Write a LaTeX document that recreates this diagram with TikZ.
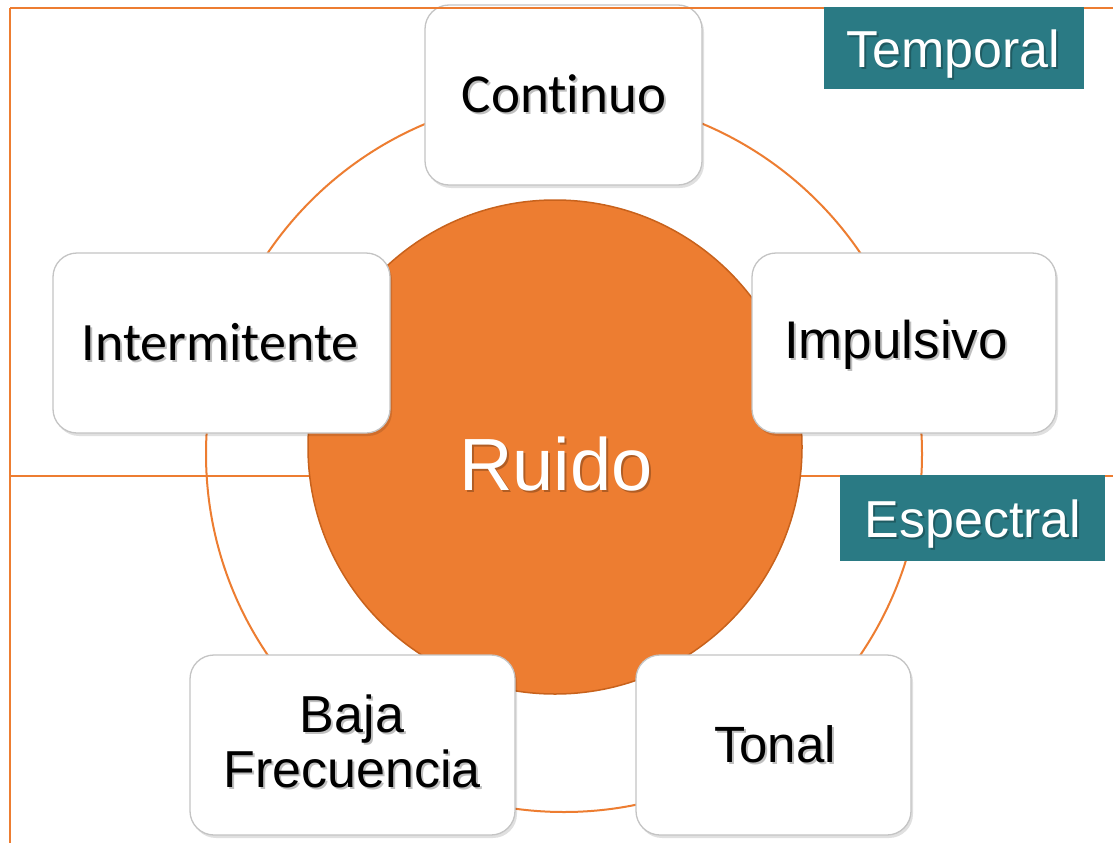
\documentclass[tikz,border=0pt]{standalone}
\usepackage{fontspec}
\setmainfont{Liberation Sans}
\newfontfamily\calib[Ligatures=NoCommon]{Carlito}
\definecolor{orng}{HTML}{ED7D31}
\definecolor{orngdk}{HTML}{C8621C}
\definecolor{teal}{HTML}{2A7A84}
\definecolor{boxln}{HTML}{C4C4C4}
\tikzset{
  oline/.style={draw=orng, line width=2pt},
  cardbox/.style={rectangle, rounded corners=24pt, draw=boxln, line width=1.3pt, fill=white, inner sep=0pt},
  cardshadow/.style={rectangle, rounded corners=24pt, fill=black, fill opacity=0.12, draw=none, inner sep=0pt},
  tagbox/.style={rectangle, fill=teal, draw=none, inner sep=0pt},
  txt/.style={anchor=base, inner sep=0pt, align=center},
  txtshadow/.style={anchor=base, inner sep=0pt, align=center, text opacity=0.25},
}
\newcommand{\mylbl}[6]{% name, x, y, font, colour, text
  \node[txtshadow, #4, text=black] (#1s) at (#2+2,#3+2.5) {#6};
  \node[txt, #4, text=#5] (#1) at (#2,#3) {#6};
}
\begin{document}
\begin{tikzpicture}[x=1pt,y=-1pt]
\useasboundingbox (0,0) rectangle (1113,843);
\fill[white] (0,0) rectangle (1113,843);
% frame lines
\coordinate (tl) at (10,8);
\coordinate (bl) at (10,843);
\coordinate (ml) at (10,476);
\coordinate (mr) at (1113,476);
\coordinate (tr) at (1113,8);
\draw[oline] (tl) -- (bl);
\draw[oline] (ml) -- (mr);
% ring
\coordinate (ringc) at (564,454);
\draw[oline] (ringc) circle (358pt);
% central circle
\node[circle, fill=orng, draw=orngdk, line width=1.5pt, minimum size=494pt, inner sep=0pt] (ruidoc) at (555,447) {};
% cards
\node[cardshadow, minimum width=277pt, minimum height=180pt] (c1s) at (565.5,98) {};
\node[cardbox, minimum width=277pt, minimum height=180pt] (c1) at (563.5,95) {};
\node[cardshadow, minimum width=337pt, minimum height=180pt] (c2s) at (223.5,346) {};
\node[cardbox, minimum width=337pt, minimum height=180pt] (c2) at (221.5,343) {};
\node[cardshadow, minimum width=304pt, minimum height=180pt] (c3s) at (906,346) {};
\node[cardbox, minimum width=304pt, minimum height=180pt] (c3) at (904,343) {};
\node[cardshadow, minimum width=325pt, minimum height=180pt] (c4s) at (354.5,748) {};
\node[cardbox, minimum width=325pt, minimum height=180pt] (c4) at (352.5,745) {};
\node[cardshadow, minimum width=275pt, minimum height=180pt] (c5s) at (775.5,748) {};
\node[cardbox, minimum width=275pt, minimum height=180pt] (c5) at (773.5,745) {};
% top line over cards
\draw[oline] (tl) -- (tr);
% tags
\node[tagbox, minimum width=260pt, minimum height=82pt] (tag1) at (954,48) {};
\node[tagbox, minimum width=265pt, minimum height=86pt] (tag2) at (972.5,518) {};
% texts
\mylbl{tcont}{564}{112}{font=\calib\fontsize{55}{57}\selectfont}{black}{Continuo}
\mylbl{tint}{220}{360}{font=\calib\fontsize{54}{57}\selectfont}{black}{Intermitente}
\mylbl{timp}{896}{358}{font=\fontsize{53}{55}\selectfont}{black}{Impulsivo}
\mylbl{ttonal}{775}{762}{font=\fontsize{51}{55}\selectfont}{black}{Tonal}
\mylbl{tbaja}{352}{732}{font=\fontsize{52}{55}\selectfont}{black}{Baja}
\mylbl{tfrec}{352}{787}{font=\fontsize{52}{55}\selectfont}{black}{Frecuencia}
\mylbl{truido}{556}{490}{font=\fontsize{74}{80}\selectfont}{white}{Ruido}
\mylbl{ttemp}{953}{67}{font=\fontsize{52}{55}\selectfont}{white}{Temporal}
\mylbl{tesp}{973}{537}{font=\fontsize{52}{55}\selectfont}{white}{Espectral}
\end{tikzpicture}
\end{document}
